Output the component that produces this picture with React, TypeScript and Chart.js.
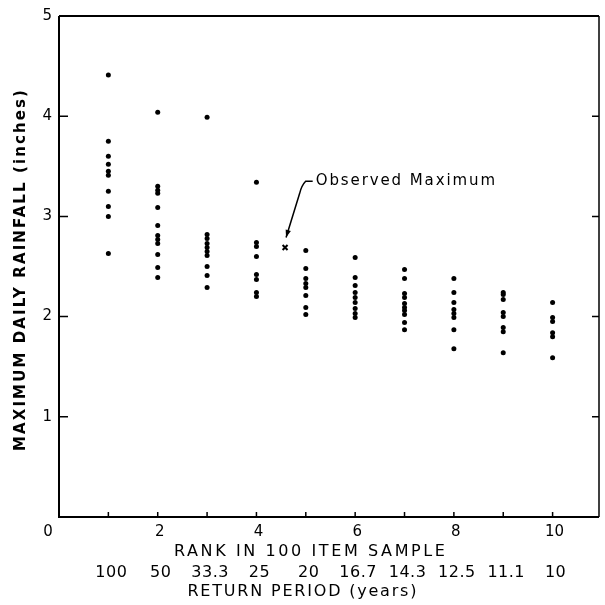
import React, { useEffect, useRef } from "react";
import { Chart, registerables } from "chart.js";

Chart.register(...registerables);

// ---- data ----
const rank1 = [4.41, 3.75, 3.6, 3.52, 3.45, 3.41, 3.25, 3.1, 3.0, 2.63];
const rank2 = [4.04, 3.3, 3.26, 3.23, 3.09, 2.91, 2.81, 2.77, 2.73, 2.62, 2.49, 2.39];
const rank3 = [3.99, 2.82, 2.78, 2.73, 2.69, 2.65, 2.61, 2.5, 2.41, 2.29];
const rank4 = [3.34, 2.74, 2.7, 2.6, 2.42, 2.37, 2.24, 2.2];
const rank5 = [2.66, 2.48, 2.38, 2.33, 2.29, 2.21, 2.09, 2.02];
const rank6 = [2.59, 2.39, 2.31, 2.24, 2.19, 2.14, 2.08, 2.03, 1.99];
const rank7 = [2.47, 2.38, 2.23, 2.19, 2.13, 2.09, 2.06, 2.02, 1.94, 1.87];
const rank8 = [2.38, 2.24, 2.14, 2.07, 2.03, 1.99, 1.87, 1.68];
const rank9 = [2.24, 2.22, 2.17, 2.04, 2.0, 1.89, 1.85, 1.64];
const rank10 = [2.14, 1.99, 1.95, 1.84, 1.8, 1.59];
const rankColumns = [rank1, rank2, rank3, rank4, rank5, rank6, rank7, rank8, rank9, rank10];

const observedRank = 4.58;
const observedValue = 2.69;

const rankTickLabels = [0, 2, 4, 6, 8, 10];
const rankMinorTicks = [1, 2, 3, 4, 5, 6, 7, 8, 9, 10];
const returnPeriods = ["100", "50", "33.3", "25", "20", "16.7", "14.3", "12.5", "11.1", "10"];
const valueTickLabels = [1, 2, 3, 4, 5];
const valueInnerTicks = [1, 2, 3, 4];

const xTitle = "RANK IN 100 ITEM SAMPLE";
const xTitle2 = "RETURN PERIOD (years)";
const yTitle = "MAXIMUM DAILY RAINFALL (inches)";
const annotText = "Observed Maximum";
const annotAt = { x: 5.2, y: 3.35 };
const arrowTip = { x: 4.6, y: 2.79 };

const FONT = "'DejaVu Sans', sans-serif";

const framePlugin = {
  id: "framePlugin",
  afterDraw(chart: any) {
    const { ctx, chartArea: a, scales } = chart;
    const xs = scales.x;
    const ys = scales.y;
    ctx.save();
    ctx.strokeStyle = "#000";
    ctx.fillStyle = "#000";
    // frame
    ctx.lineWidth = 2;
    ctx.beginPath();
    ctx.moveTo(a.left, a.top);
    ctx.lineTo(a.right, a.top);
    ctx.moveTo(a.left, a.top);
    ctx.lineTo(a.left, a.bottom);
    ctx.lineTo(a.right, a.bottom);
    ctx.stroke();
    ctx.lineWidth = 1.5;
    ctx.beginPath();
    ctx.moveTo(a.right, a.top);
    ctx.lineTo(a.right, a.bottom);
    ctx.stroke();
    // inner ticks
    ctx.lineWidth = 1.5;
    ctx.beginPath();
    valueInnerTicks.forEach((v) => {
      const y = ys.getPixelForValue(v);
      ctx.moveTo(a.left, y);
      ctx.lineTo(a.left + 9, y);
      ctx.moveTo(a.right, y);
      ctx.lineTo(a.right - 7, y);
    });
    rankMinorTicks.forEach((v) => {
      const x = xs.getPixelForValue(v);
      ctx.moveTo(x, a.bottom);
      ctx.lineTo(x, a.bottom - 5);
    });
    ctx.stroke();

    // x tick labels
    ctx.font = `15px ${FONT}`;
    ctx.textAlign = "center";
    ctx.textBaseline = "middle";
    rankTickLabels.forEach((v) => {
      const x = xs.getPixelForValue(v) + (v === 0 ? -11 : 2);
      ctx.fillText(String(v), x, a.bottom + 15);
    });
    // x titles
    ctx.font = `16px ${FONT}`;
    (ctx as any).letterSpacing = "2.6px";
    ctx.fillText(xTitle, xs.getPixelForValue(5.08) + 1, a.bottom + 35);
    (ctx as any).letterSpacing = "0.5px";
    returnPeriods.forEach((t, i) => {
      ctx.fillText(t, xs.getPixelForValue(rankMinorTicks[i]) + 3, a.bottom + 56);
    });
    (ctx as any).letterSpacing = "1.8px";
    ctx.fillText(xTitle2, xs.getPixelForValue(4.92) + 1, a.bottom + 75);

    // y title
    ctx.save();
    ctx.translate(21, (a.top + a.bottom) / 2 + 3);
    ctx.rotate(-Math.PI / 2);
    ctx.font = `bold 15px ${FONT}`;
    (ctx as any).letterSpacing = "2.1px";
    ctx.fillText(yTitle, 0, 0);
    ctx.restore();

    // annotation
    const tx = xs.getPixelForValue(annotAt.x);
    const ty = ys.getPixelForValue(annotAt.y);
    ctx.font = `15px ${FONT}`;
    (ctx as any).letterSpacing = "1.9px";
    ctx.textAlign = "left";
    ctx.fillText(annotText, tx, ty);
    const px = xs.getPixelForValue(arrowTip.x);
    const py = ys.getPixelForValue(arrowTip.y);
    ctx.lineWidth = 1.5;
    ctx.beginPath();
    ctx.moveTo(tx - 3, ty);
    ctx.lineTo(tx - 10, ty);
    ctx.quadraticCurveTo(tx - 14, ty + 4, tx - 16, ty + 12);
    ctx.lineTo(px, py);
    ctx.stroke();
    // arrow head
    const ang = Math.atan2(py - (ty + 12), px - (tx - 16));
    ctx.beginPath();
    ctx.moveTo(px, py);
    ctx.lineTo(px - 8 * Math.cos(ang - 0.35), py - 8 * Math.sin(ang - 0.35));
    ctx.lineTo(px - 8 * Math.cos(ang + 0.35), py - 8 * Math.sin(ang + 0.35));
    ctx.closePath();
    ctx.fill();
    ctx.restore();
  },
};

export default function App() {
  const ref = useRef<HTMLCanvasElement | null>(null);
  useEffect(() => {
    if (!ref.current) return;
    const samples: { x: number; y: number }[] = [];
    rankColumns.forEach((col, i) => col.forEach((v) => samples.push({ x: i + 1, y: v })));
    const chart = new Chart(ref.current, {
      type: "scatter",
      data: {
        datasets: [
          {
            label: "samples",
            data: samples,
            backgroundColor: "#000",
            borderColor: "#000",
            pointRadius: 2.5,
            borderWidth: 0,
          },
          {
            label: "observed",
            data: [{ x: observedRank, y: observedValue }],
            pointStyle: "crossRot",
            pointRadius: 3.5,
            borderColor: "#000",
            borderWidth: 2,
          },
        ],
      },
      options: {
        animation: false,
        responsive: false,
        events: [],
        layout: { padding: { top: 14, right: 1, left: 0, bottom: 0 } },
        plugins: { legend: { display: false }, tooltip: { enabled: false } },
        scales: {
          x: {
            type: "linear",
            min: 0,
            max: 10.94,
            grid: { display: false, drawTicks: false },
            border: { display: false },
            ticks: { display: false },
            afterFit: (s: any) => {
              s.height = 88;
            },
          },
          y: {
            type: "linear",
            min: 0,
            max: 5,
            grid: { display: false, drawTicks: false },
            border: { display: false },
            afterBuildTicks: (s: any) => {
              s.ticks = valueTickLabels.map((v) => ({ value: v }));
            },
            ticks: {
              color: "#000",
              padding: 7,
              font: { family: "DejaVu Sans", size: 15 },
            },
            afterFit: (s: any) => {
              s.width = 59;
            },
          },
        },
      },
      plugins: [framePlugin],
    });
    return () => chart.destroy();
  }, []);
  return (
    <div style={{ position: "absolute", left: 0, top: 0, width: 605, height: 605, background: "#fff" }}>
      <canvas ref={ref} width={605} height={605} />
    </div>
  );
}
